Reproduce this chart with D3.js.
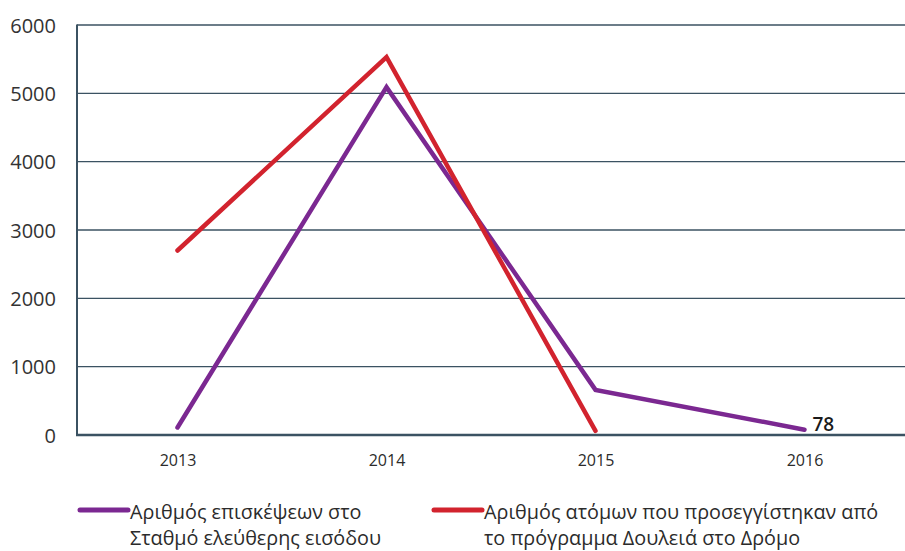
<!DOCTYPE html>
<html><head><meta charset="utf-8">
<script src="https://cdn.jsdelivr.net/npm/d3@7"></script>
<style>body{margin:0;background:#fff}svg{display:block}text{font-family:"Open Sans","DejaVu Sans",sans-serif}</style>
</head><body><svg id="c" width="905" height="551"></svg>
<script>
const years = ["2013","2014","2015","2016"];
const visits = [110, 5090, 660, 78];           // purple
const reached = [2700, 5530, 60, null];        // red
const yTicks = [0,1000,2000,3000,4000,5000,6000];
const legendLabels = [["Αριθμός επισκέψεων στο","Σταθμό ελεύθερης εισόδου"],["Αριθμός ατόμων που προσεγγίστηκαν από","το πρόγραμμα Δουλειά στο Δρόμο"]];
const colors = ["#7b2891","#d2232e"];

const svg = d3.select("#c");
const x = d3.scalePoint().domain(years).range([73, 909]).padding(0.5);
const y = d3.scaleLinear().domain([0,6000]).range([435, 25]);
const axisColor = "#3b5262";

// gridlines
svg.append("g").selectAll("line").data(yTicks.filter(d=>d>0)).join("line")
  .attr("x1",77).attr("x2",905).attr("y1",d=>y(d)).attr("y2",d=>y(d))
  .attr("stroke",axisColor).attr("stroke-width",1.3);
// y axis labels
const ya = svg.append("g").attr("transform","translate(56,0)")
  .call(d3.axisLeft(y).tickValues(yTicks).tickSize(0).tickPadding(0).tickFormat(d3.format("d")));
ya.select(".domain").remove();
ya.selectAll("text").attr("font-size",20).attr("fill","#333").attr("dy","0.35em");
// axes lines
svg.append("line").attr("x1",77).attr("x2",77).attr("y1",y(6000)-0.5).attr("y2",y(0)+1).attr("stroke",axisColor).attr("stroke-width",2);
svg.append("line").attr("x1",76).attr("x2",905).attr("y1",y(0)).attr("y2",y(0)).attr("stroke",axisColor).attr("stroke-width",2.5);
// x axis labels
const xa = svg.append("g").attr("transform","translate(0,"+(y(0))+")")
  .call(d3.axisBottom(x).tickSize(0).tickPadding(20));
xa.select(".domain").remove();
xa.selectAll("text").attr("font-size",16).attr("fill","#2b2b2b").attr("font-family","'DejaVu Sans Condensed','Liberation Sans Narrow',sans-serif");

// lines
const line = d3.line().defined(d=>d.v!=null).x(d=>x(d.yr)).y(d=>y(d.v));
[visits, reached].forEach((s,i)=>{
  svg.append("path").datum(years.map((yr,j)=>({yr, v:s[j]})))
    .attr("d",line).attr("fill","none").attr("stroke",colors[i]).attr("stroke-width",4.5)
    .attr("stroke-linecap","round").attr("stroke-linejoin","miter");
});
// data label
svg.append("text").attr("x",x("2016")+8).attr("y",y(visits[3])).attr("dy","0.05em")
  .attr("font-size",19).attr("font-weight",600).attr("fill","#1a1a1a").text(visits[3]);

// legend
const lx = [78, 432];
legendLabels.forEach((lines,i)=>{
  const g = svg.append("g");
  g.append("line").attr("x1",lx[i]+2).attr("x2",lx[i]+50).attr("y1",510).attr("y2",510)
    .attr("stroke",colors[i]).attr("stroke-width",5).attr("stroke-linecap","round");
  lines.forEach((t,k)=>{
    g.append("text").attr("x",lx[i]+52).attr("y",519+k*26).attr("font-size",19.8).attr("fill","#2b2b2b").text(t);
  });
});
</script></body></html>
